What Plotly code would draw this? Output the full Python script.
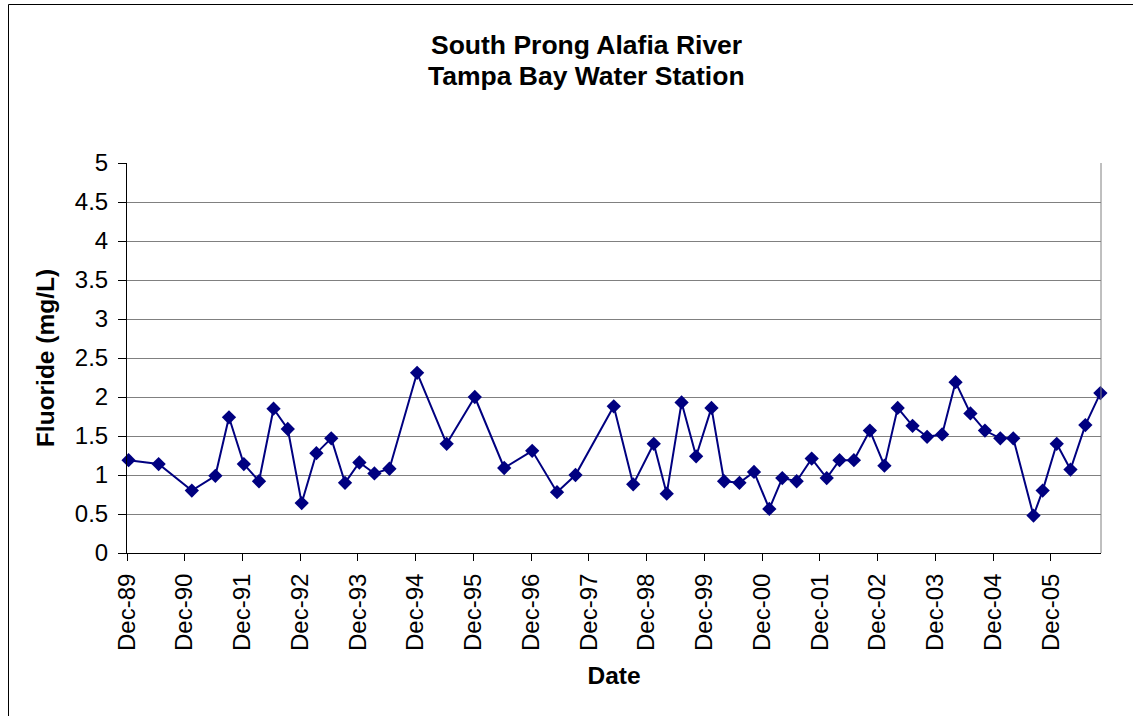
import plotly.graph_objects as go

dates = [
    "1989-12-11", "1990-06-19", "1991-01-15", "1991-06-13", "1991-09-07", "1991-12-10",
    "1992-03-15", "1992-06-15", "1992-09-13", "1992-12-10", "1993-03-13", "1993-06-15",
    "1993-09-10", "1993-12-10", "1994-03-15", "1994-06-18", "1994-12-10", "1995-06-15",
    "1995-12-10", "1996-06-13", "1996-12-07", "1997-05-13", "1997-09-07", "1998-05-07",
    "1998-09-07", "1999-01-15", "1999-04-07", "1999-07-10", "1999-10-10", "2000-01-15",
    "2000-04-04", "2000-07-10", "2000-10-10", "2001-01-15", "2001-04-07", "2001-07-07",
    "2001-10-10", "2002-01-13", "2002-04-04", "2002-07-04", "2002-10-13", "2003-01-13",
    "2003-04-07", "2003-07-10", "2003-10-10", "2004-01-13", "2004-04-07", "2004-07-10",
    "2004-10-10", "2005-01-15", "2005-04-07", "2005-08-13", "2005-10-10", "2006-01-07",
    "2006-04-04", "2006-07-07", "2006-10-10",
]
fluoride = [
    1.19, 1.14, 0.80, 0.99, 1.74, 1.14,
    0.92, 1.85, 1.59, 0.64, 1.28, 1.47,
    0.90, 1.16, 1.02, 1.08, 2.31, 1.40,
    2.00, 1.09, 1.31, 0.78, 1.00, 1.88,
    0.88, 1.40, 0.76, 1.93, 1.24, 1.86,
    0.92, 0.90, 1.04, 0.565, 0.96, 0.92,
    1.21, 0.96, 1.19, 1.19, 1.57, 1.12,
    1.86, 1.63, 1.49, 1.52, 2.19, 1.79,
    1.57, 1.47, 1.47, 0.48, 0.80, 1.40,
    1.07, 1.64, 2.05,
]

title_lines = ["South Prong Alafia River", "Tampa Bay Water Station"]
x_title = "Date"
y_title = "Fluoride (mg/L)"

W, H = 1133, 716
L, R, T, B = 127, 1101, 163, 553
FONT = "Liberation Sans, Arial, sans-serif"

def px_x(p):
    return (p - L) / (R - L)

def px_y(p):
    return (B - p) / (B - T)

fig = go.Figure()
fig.add_trace(go.Scatter(
    x=dates, y=fluoride, mode="lines+markers",
    line=dict(color="#000080", width=2),
    marker=dict(symbol="diamond", size=11, color="#000080"),
    showlegend=False, cliponaxis=False,
))

title_y = [45, 76]
annotations = [
    dict(text="<b>" + t + "</b>", xref="paper", yref="paper",
         x=px_x(586), y=px_y(yy), xanchor="center", yanchor="middle",
         showarrow=False, font=dict(family=FONT, size=26.5, color="black"))
    for t, yy in zip(title_lines, title_y)
]

fig.update_layout(
    width=W, height=H, autosize=False,
    margin=dict(l=L, r=W - R, t=T, b=H - B, pad=0),
    paper_bgcolor="white", plot_bgcolor="white",
    font=dict(family=FONT, color="black", size=24),
    annotations=annotations,
    xaxis=dict(
        type="date",
        range=["1989-12-01", "2006-10-14"],
        tick0="1989-12-01", dtick="M12", tickformat="%b-%y",
        tickangle=-90,
        ticks="outside", ticklen=7, tickcolor="black", tickwidth=1,
        ticklabelstandoff=3,
        showline=True, linecolor="black", linewidth=1,
        showgrid=False, zeroline=False,
        tickfont=dict(family=FONT, size=24, color="black"),
        title=dict(text="<b>" + x_title + "</b>", standoff=16,
                   font=dict(family=FONT, size=24.5, color="black")),
    ),
    yaxis=dict(
        range=[0, 5], dtick=0.5, tick0=0,
        ticks="outside", ticklen=8, tickcolor="black", tickwidth=1,
        ticklabelstandoff=5,
        showline=True, linecolor="black", linewidth=1,
        showgrid=True, gridcolor="#808080", gridwidth=1,
        zeroline=False,
        tickfont=dict(family=FONT, size=24, color="black"),
        title=dict(text="<b>" + y_title + "</b>", standoff=13,
                   font=dict(family=FONT, size=24.5, color="black")),
    ),
    shapes=[
        dict(type="line", xref="paper", yref="paper", x0=1, x1=1, y0=0, y1=1,
             line=dict(color="#808080", width=1)),
        dict(type="rect", xref="paper", yref="paper",
             x0=px_x(8.5), x1=px_x(1140), y0=px_y(722), y1=px_y(4.5),
             line=dict(color="black", width=1), layer="below"),
    ],
)

fig.write_html("out.html", config={"displayModeBar": False},
               post_script="document.body.style.margin='0';")
